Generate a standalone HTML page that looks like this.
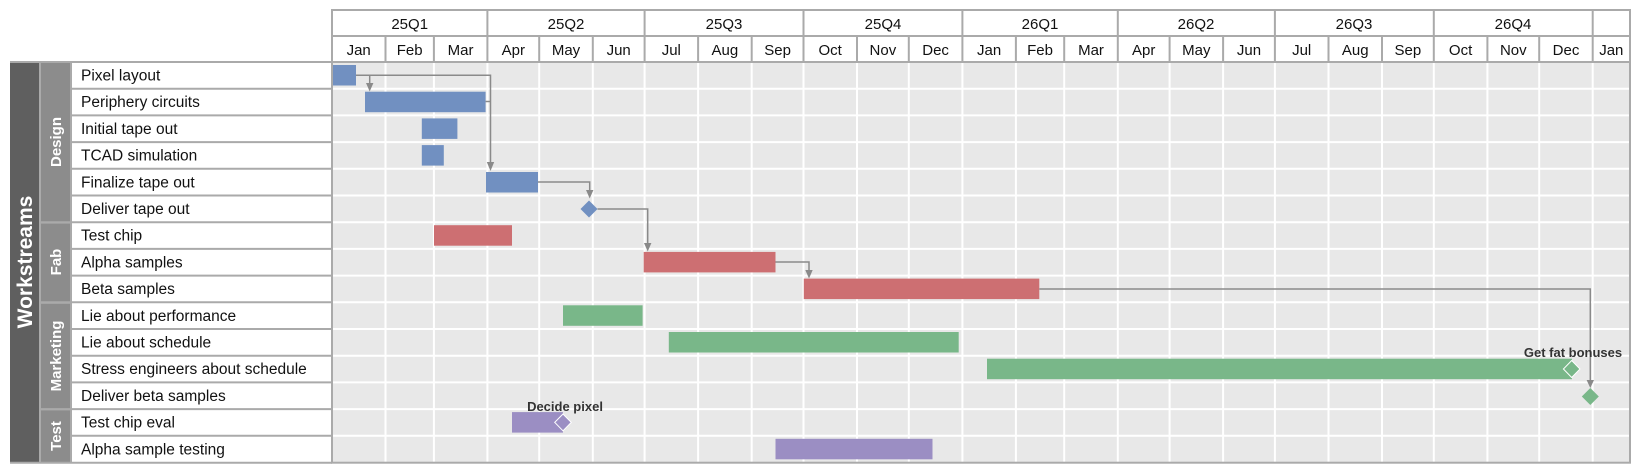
<!DOCTYPE html>
<html><head><meta charset="utf-8"><style>
html,body{margin:0;padding:0;background:#fff;}
svg{display:block;font-family:"Liberation Sans",Arial,sans-serif;}
</style></head><body>
<svg width="1641" height="474" viewBox="0 0 1641 474" xmlns="http://www.w3.org/2000/svg">
<!-- chart background -->
<rect x="332" y="62" width="1298" height="400.7" fill="#e8e8e8"/>
<g stroke="#fff" stroke-width="2">
<line x1="385.5" y1="62" x2="385.5" y2="462"/>
<line x1="433.9" y1="62" x2="433.9" y2="462"/>
<line x1="487.4" y1="62" x2="487.4" y2="462"/>
<line x1="539.2" y1="62" x2="539.2" y2="462"/>
<line x1="592.8" y1="62" x2="592.8" y2="462"/>
<line x1="644.6" y1="62" x2="644.6" y2="462"/>
<line x1="698.1" y1="62" x2="698.1" y2="462"/>
<line x1="751.7" y1="62" x2="751.7" y2="462"/>
<line x1="803.5" y1="62" x2="803.5" y2="462"/>
<line x1="857" y1="62" x2="857" y2="462"/>
<line x1="908.8" y1="62" x2="908.8" y2="462"/>
<line x1="962.4" y1="62" x2="962.4" y2="462"/>
<line x1="1015.9" y1="62" x2="1015.9" y2="462"/>
<line x1="1064.2" y1="62" x2="1064.2" y2="462"/>
<line x1="1117.8" y1="62" x2="1117.8" y2="462"/>
<line x1="1169.6" y1="62" x2="1169.6" y2="462"/>
<line x1="1223.1" y1="62" x2="1223.1" y2="462"/>
<line x1="1274.9" y1="62" x2="1274.9" y2="462"/>
<line x1="1328.5" y1="62" x2="1328.5" y2="462"/>
<line x1="1382" y1="62" x2="1382" y2="462"/>
<line x1="1433.8" y1="62" x2="1433.8" y2="462"/>
<line x1="1487.4" y1="62" x2="1487.4" y2="462"/>
<line x1="1539.2" y1="62" x2="1539.2" y2="462"/>
<line x1="1592.7" y1="62" x2="1592.7" y2="462"/>
<line x1="332" y1="88.7" x2="1630" y2="88.7"/>
<line x1="332" y1="115.4" x2="1630" y2="115.4"/>
<line x1="332" y1="142.1" x2="1630" y2="142.1"/>
<line x1="332" y1="168.8" x2="1630" y2="168.8"/>
<line x1="332" y1="195.5" x2="1630" y2="195.5"/>
<line x1="332" y1="222.2" x2="1630" y2="222.2"/>
<line x1="332" y1="248.9" x2="1630" y2="248.9"/>
<line x1="332" y1="275.6" x2="1630" y2="275.6"/>
<line x1="332" y1="302.3" x2="1630" y2="302.3"/>
<line x1="332" y1="329" x2="1630" y2="329"/>
<line x1="332" y1="355.7" x2="1630" y2="355.7"/>
<line x1="332" y1="382.4" x2="1630" y2="382.4"/>
<line x1="332" y1="409.1" x2="1630" y2="409.1"/>
<line x1="332" y1="435.8" x2="1630" y2="435.8"/>
</g>
<rect x="332" y="62" width="1298" height="400.7" fill="none" stroke="#aaa" stroke-width="2"/>

<!-- header -->
<rect x="332" y="10" width="1298" height="52" fill="#fff" stroke="#aaa" stroke-width="2"/>
<g stroke="#aaa" stroke-width="2">
<line x1="332" y1="36" x2="1630" y2="36"/>
<line x1="487.4" y1="10" x2="487.4" y2="62"/>
<line x1="644.6" y1="10" x2="644.6" y2="62"/>
<line x1="803.5" y1="10" x2="803.5" y2="62"/>
<line x1="962.4" y1="10" x2="962.4" y2="62"/>
<line x1="1117.8" y1="10" x2="1117.8" y2="62"/>
<line x1="1274.9" y1="10" x2="1274.9" y2="62"/>
<line x1="1433.8" y1="10" x2="1433.8" y2="62"/>
<line x1="1592.7" y1="10" x2="1592.7" y2="62"/>
<line x1="385.5" y1="36" x2="385.5" y2="62"/>
<line x1="433.9" y1="36" x2="433.9" y2="62"/>
<line x1="539.2" y1="36" x2="539.2" y2="62"/>
<line x1="592.8" y1="36" x2="592.8" y2="62"/>
<line x1="698.1" y1="36" x2="698.1" y2="62"/>
<line x1="751.7" y1="36" x2="751.7" y2="62"/>
<line x1="857" y1="36" x2="857" y2="62"/>
<line x1="908.8" y1="36" x2="908.8" y2="62"/>
<line x1="1015.9" y1="36" x2="1015.9" y2="62"/>
<line x1="1064.2" y1="36" x2="1064.2" y2="62"/>
<line x1="1169.6" y1="36" x2="1169.6" y2="62"/>
<line x1="1223.1" y1="36" x2="1223.1" y2="62"/>
<line x1="1328.5" y1="36" x2="1328.5" y2="62"/>
<line x1="1382" y1="36" x2="1382" y2="62"/>
<line x1="1487.4" y1="36" x2="1487.4" y2="62"/>
<line x1="1539.2" y1="36" x2="1539.2" y2="62"/>
</g>
<g font-size="15" fill="#111" text-anchor="middle">
<text x="409.7" y="29">25Q1</text><text x="566" y="29">25Q2</text><text x="724" y="29">25Q3</text><text x="883" y="29">25Q4</text>
<text x="1040" y="29">26Q1</text><text x="1196" y="29">26Q2</text><text x="1354" y="29">26Q3</text><text x="1513" y="29">26Q4</text>
<text x="358.7" y="55">Jan</text><text x="409.7" y="55">Feb</text><text x="460.6" y="55">Mar</text>
<text x="513.3" y="55">Apr</text><text x="566" y="55">May</text><text x="618.7" y="55">Jun</text>
<text x="671.3" y="55">Jul</text><text x="724.9" y="55">Aug</text><text x="777.6" y="55">Sep</text>
<text x="830.2" y="55">Oct</text><text x="882.9" y="55">Nov</text><text x="935.6" y="55">Dec</text>
<text x="989.1" y="55">Jan</text><text x="1040" y="55">Feb</text><text x="1091" y="55">Mar</text>
<text x="1143.7" y="55">Apr</text><text x="1196.3" y="55">May</text><text x="1249" y="55">Jun</text>
<text x="1301.7" y="55">Jul</text><text x="1355.2" y="55">Aug</text><text x="1407.9" y="55">Sep</text>
<text x="1460.6" y="55">Oct</text><text x="1513.3" y="55">Nov</text><text x="1566" y="55">Dec</text>
<text x="1611.3" y="55">Jan</text>
</g>

<!-- left labels -->
<rect x="10" y="62" width="29" height="400.7" fill="#5f5f5f"/>
<g fill="#8c8c8c">
<rect x="41" y="62" width="30" height="160.2"/>
<rect x="41" y="223.2" width="30" height="79.1"/>
<rect x="41" y="303.3" width="30" height="105.8"/>
<rect x="41" y="410.1" width="30" height="52.6"/>
</g>
<g stroke="#aaa" stroke-width="2">
<line x1="71" y1="62" x2="332" y2="62"/>
<line x1="71" y1="88.7" x2="332" y2="88.7"/>
<line x1="71" y1="115.4" x2="332" y2="115.4"/>
<line x1="71" y1="142.1" x2="332" y2="142.1"/>
<line x1="71" y1="168.8" x2="332" y2="168.8"/>
<line x1="71" y1="195.5" x2="332" y2="195.5"/>
<line x1="39" y1="222.2" x2="332" y2="222.2"/>
<line x1="71" y1="248.9" x2="332" y2="248.9"/>
<line x1="71" y1="275.6" x2="332" y2="275.6"/>
<line x1="39" y1="302.3" x2="332" y2="302.3"/>
<line x1="71" y1="329" x2="332" y2="329"/>
<line x1="71" y1="355.7" x2="332" y2="355.7"/>
<line x1="71" y1="382.4" x2="332" y2="382.4"/>
<line x1="39" y1="409.1" x2="332" y2="409.1"/>
<line x1="71" y1="435.8" x2="332" y2="435.8"/>
<line x1="10" y1="462.7" x2="332" y2="462.7"/>
<line x1="71" y1="62" x2="71" y2="462.7"/>
<line x1="40" y1="62" x2="40" y2="462.7"/>
<line x1="10" y1="62" x2="71" y2="62"/>
</g>
<text transform="translate(32,262) rotate(-90)" text-anchor="middle" font-size="21" font-weight="bold" fill="#fff">Workstreams</text>
<g font-size="15" font-weight="bold" fill="#fff" text-anchor="middle">
<text transform="translate(61,142) rotate(-90)">Design</text>
<text transform="translate(61,262) rotate(-90)">Fab</text>
<text transform="translate(61,356) rotate(-90)">Marketing</text>
<text transform="translate(61,436) rotate(-90)">Test</text>
</g>
<g font-size="15.5" fill="#111">
<text x="81" y="80.5">Pixel layout</text>
<text x="81" y="107.2">Periphery circuits</text>
<text x="81" y="133.9">Initial tape out</text>
<text x="81" y="160.6">TCAD simulation</text>
<text x="81" y="187.3">Finalize tape out</text>
<text x="81" y="214">Deliver tape out</text>
<text x="81" y="240.7">Test chip</text>
<text x="81" y="267.4">Alpha samples</text>
<text x="81" y="294.1">Beta samples</text>
<text x="81" y="320.8">Lie about performance</text>
<text x="81" y="347.5">Lie about schedule</text>
<text x="81" y="374.2">Stress engineers about schedule</text>
<text x="81" y="400.9">Deliver beta samples</text>
<text x="81" y="427.6">Test chip eval</text>
<text x="81" y="454.3">Alpha sample testing</text>
</g>

<!-- bars -->
<g fill="#7190c1">
<rect x="333" y="65" width="23" height="20.5"/>
<rect x="365" y="91.7" width="120.6" height="20.5"/>
<rect x="421.8" y="118.4" width="35.6" height="20.5"/>
<rect x="421.8" y="145.1" width="22" height="20.5"/>
<rect x="486" y="172" width="52" height="20.5"/>
<path d="M589,200.5 L597.5,209 L589,217.5 L580.5,209 Z"/>
</g>
<g fill="#cd6f72">
<rect x="434" y="225.2" width="78" height="20.5"/>
<rect x="643.7" y="251.9" width="131.8" height="20.5"/>
<rect x="803.8" y="278.6" width="235.5" height="20.5"/>
</g>
<g fill="#79b789">
<rect x="563" y="305.3" width="79.6" height="20.5"/>
<rect x="668.8" y="332" width="289.9" height="20.5"/>
<rect x="987" y="358.7" width="585" height="20.5"/>
<path d="M1571.7,360.5 L1580,369 L1571.7,377.5 L1563.4,369 Z" stroke="#fff" stroke-width="1"/>
<path d="M1590.3,388 L1598.8,396.5 L1590.3,405 L1581.8,396.5 Z"/>
</g>
<g fill="#9b8ec3">
<rect x="512" y="412.1" width="51" height="20.5"/>
<path d="M563,414 L571.3,422.4 L563,430.8 L554.7,422.4 Z" stroke="#fff" stroke-width="1"/>
<rect x="775.5" y="438.8" width="157" height="20.5"/>
</g>

<!-- connectors -->
<g fill="none" stroke="#8a8a8a" stroke-width="1.5">
<polyline points="356,75.3 490.5,75.3 490.5,163"/>
<polyline points="369.7,75.3 369.7,84"/>
<polyline points="485.6,101.5 490.5,101.5"/>
<polyline points="538,182 589.7,182 589.7,191"/>
<polyline points="597.5,209 647.7,209 647.7,244"/>
<polyline points="775.5,262 809,262 809,271"/>
<polyline points="1039.3,289 1590.3,289 1590.3,381"/>
</g>
<g fill="#8a8a8a">
<path d="M366,83 L373.4,83 L369.7,91.5 Z"/>
<path d="M486.8,162 L494.2,162 L490.5,171 Z"/>
<path d="M586,190 L593.4,190 L589.7,198.5 Z"/>
<path d="M644,243 L651.4,243 L647.7,251.5 Z"/>
<path d="M805.3,270 L812.7,270 L809,278.5 Z"/>
<path d="M1586.6,380 L1594,380 L1590.3,388 Z"/>
</g>
<g font-size="13" font-weight="bold" fill="#333" text-anchor="middle">
<text x="1573" y="357">Get fat bonuses</text>
<text x="565" y="411">Decide pixel</text>
</g>
</svg>
</body></html>
